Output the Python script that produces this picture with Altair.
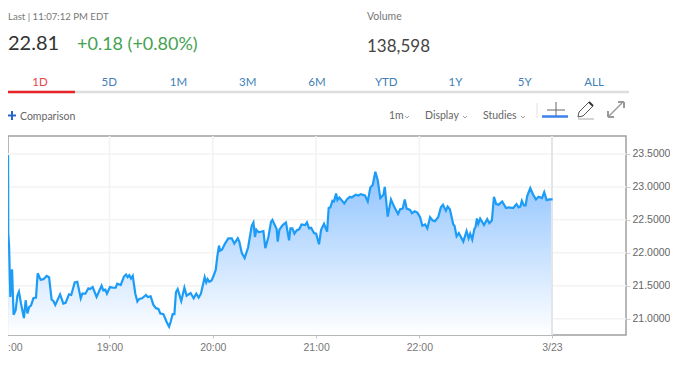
import altair as alt
import pandas as pd

minutes = [1.1,1.2,1.7,2.4,3.4,4.3,5.5,6.5,7.4,8.6,10.3,11.3,12.3,13.4,14.4,15.8,17.3,18.3,20.0,21.6,23.5,24.9,26.4,27.4,28.5,31.3,33.2,34.5,36.5,37.8,39.8,41.3,43.3,44.2,46.0,47.7,48.7,50.2,52.5,55.4,56.4,57.6,58.5,60.3,62.2,63.6,64.5,66.5,68.4,69.6,70.5,71.5,72.5,73.5,75.0,76.2,77.3,78.9,81.2,82.2,83.9,85.5,87.0,88.4,89.5,91.3,93.2,94.6,95.5,96.7,97.7,98.6,99.6,101.7,103.5,104.8,107.1,108.9,110.4,111.8,113.1,115.3,116.2,117.0,118.0,119.3,120.3,121.7,122.6,123.6,
124.2,125.4,127.1,129.0,131.0,132.5,134.5,135.4,136.8,138.5,140.5,142.6,143.6,144.5,145.3,146.7,149.4,150.5,152.3,153.8,154.6,157.1,157.7,158.7,160.6,162.5,164.3,165.1,166.2,167.4,168.7,170.3,171.5,173.6,174.7,175.9,177.1,178.8,180.0,181.7,182.9,184.6,186.4,187.3,188.3,189.5,190.4,191.6,192.4,193.5,196.4,198.2,199.7,200.7,203.0,204.6,205.9,208.4,210.0,211.5,212.9,214.4,215.8,217.3,219.1,219.9,221.6,223.5,225.5,227.6,228.8,230.3,231.5,232.6,234.6,235.7,237.3,238.8,240.4,241.7,243.3,244.6,246.2,
247.7,249.0,250.9,252.5,253.7,255.4,256.4,257.7,259.7,260.4,261.6,262.9,265.5,267.4,268.6,269.5,270.7,271.9,272.6,273.4,274.2,275.3,277.5,279.4,280.6,282.1,283.3,284.6,286.0,288.1,290.3,292.0,294.5,296.4,297.6,298.6,299.5,300.7,301.7,302.6,304.4,306.1,307.7,309.2,311.2,312.5,313.9,315.4,317.4]
prices = [23.48,22.30,22.09,21.33,21.75,21.06,21.13,21.35,21.41,21.23,21.01,21.28,21.08,21.18,21.20,21.31,21.32,21.69,21.59,21.60,21.65,21.63,21.29,21.27,21.21,21.37,21.23,21.24,21.37,21.36,21.55,21.56,21.31,21.38,21.38,21.46,21.45,21.48,21.33,21.50,21.43,21.44,21.38,21.48,21.47,21.47,21.53,21.51,21.64,21.67,21.63,21.66,21.61,21.65,21.38,21.26,21.30,21.31,21.36,21.33,21.34,21.21,21.16,21.15,21.08,21.07,20.95,20.88,20.95,21.07,21.07,21.40,21.45,21.27,21.47,21.35,21.39,21.31,21.38,21.32,21.38,21.63,21.55,21.60,21.56,21.58,21.64,21.74,21.94,22.11,
22.03,22.05,22.14,22.22,22.22,22.14,22.22,22.17,22.00,21.92,22.08,22.41,22.46,22.24,22.35,22.31,22.33,22.07,22.24,22.47,22.50,22.36,22.17,22.35,22.42,22.46,22.19,22.37,22.37,22.29,22.34,22.36,22.43,22.42,22.46,22.37,22.38,22.30,22.29,22.13,22.35,22.44,22.32,22.68,22.69,22.79,22.78,22.90,22.80,22.84,22.75,22.82,22.85,22.84,22.88,22.87,22.89,22.87,22.78,22.99,23.03,23.23,23.10,22.83,22.88,23.00,22.55,22.81,22.69,22.59,22.66,22.67,22.81,22.67,22.65,22.60,22.63,22.61,22.54,22.41,22.43,22.37,22.54,
22.49,22.48,22.54,22.69,22.73,22.64,22.70,22.66,22.43,22.41,22.25,22.30,22.17,22.33,22.22,22.29,22.20,22.36,22.39,22.52,22.44,22.52,22.42,22.51,22.45,22.49,22.85,22.74,22.73,22.78,22.68,22.69,22.68,22.74,22.69,22.70,22.79,22.72,22.72,22.86,22.98,22.88,22.81,22.85,22.83,22.92,22.80,22.81,22.81]

y_ticks = [23.5, 23.0, 22.5, 22.0, 21.5, 21.0]
x_ticks = [60, 120, 180, 240, 317]
x_labels = ["19:00", "20:00", "21:00", "22:00", "3/23"]
tabs = ["1D", "5D", "1M", "3M", "6M", "YTD", "1Y", "5Y", "ALL"]

PW, PH = 618, 199
OX, OY = 8, 136
UI = "Lato"

df = pd.DataFrame({"minute": minutes, "price": prices})
label_map = "{" + ",".join(f"'{t}':'{l}'" for t, l in zip(x_ticks, x_labels)) + "}"

x_scale = alt.Scale(domain=[1.05, 360], nice=False, zero=False)
y_scale = alt.Scale(domain=[20.753, 23.772], nice=False, zero=False)

def px(x):
    return x - OX

def py(y):
    return y - OY

def txt(s, x, y, size, color, align="left", weight=400, font=UI):
    return alt.Chart().mark_text(text=s, align=align, baseline="alphabetic", fontSize=size,
                                 color=color, font=font, fontWeight=weight).encode(
        x=alt.value(px(x)), y=alt.value(py(y)))

def seg(x1, y1, x2, y2, color, w=1.0):
    return alt.Chart().mark_rule(color=color, strokeWidth=w).encode(
        x=alt.value(px(x1)), x2=alt.value(px(x2)), y=alt.value(py(y1)), y2=alt.value(py(y2)))

x_axis = alt.Axis(values=x_ticks, labelExpr=f"{label_map}[datum.value]", title=None, grid=False,
                  domain=False, tickColor="#c4c4c4", tickSize=3, labelColor="#777777",
                  labelFont="Liberation Sans", labelFontSize=10.5, labelPadding=4,
                  labelBound=False, labelFlush=False, labelOverlap=False)
y_axis = alt.Axis(orient="right", values=y_ticks, format=".4f", title=None, grid=False,
                  domain=False, tickColor="#d0d0d0", tickSize=4, labelColor="#666666",
                  labelFont="Liberation Sans", labelFontSize=10.5, labelPadding=2,
                  labelOverlap=False)

grid_x = alt.Chart(pd.DataFrame({"minute": x_ticks[:-1]})).mark_rule(color="#f1f2f3", strokeWidth=1.5).encode(
    x=alt.X("minute:Q", scale=x_scale, axis=x_axis))
grid_last = alt.Chart(pd.DataFrame({"minute": x_ticks[-1:]})).mark_rule(color="#e2e5ea", strokeWidth=2).encode(
    x=alt.X("minute:Q", scale=x_scale, axis=x_axis))
grid_y = alt.Chart(pd.DataFrame({"price": y_ticks})).mark_rule(color="#f3f3f3", strokeWidth=1.5).encode(
    y=alt.Y("price:Q", scale=y_scale, axis=y_axis))

area = alt.Chart(df).mark_area(
    clip=True,
    line=False,
    fill=alt.Gradient(gradient="linear", x1=0, x2=0, y1=1, y2=0,
                      stops=[alt.GradientStop(color="#ffffff", offset=0),
                             alt.GradientStop(color="#84bdff", offset=1)])
).encode(
    x=alt.X("minute:Q", scale=x_scale, axis=x_axis),
    y=alt.Y("price:Q", scale=y_scale, axis=y_axis),
    y2=alt.datum(20.753),
)
line = alt.Chart(df).mark_line(clip=True, color="#1c9cf6", strokeWidth=2.2).encode(
    x=alt.X("minute:Q", scale=x_scale, axis=x_axis), y=alt.Y("price:Q", scale=y_scale, axis=y_axis))

header = [
    txt("Last | 11:07:12 PM EDT", 8, 20, 9.6, "#777777"),
    txt("22.81", 8, 50, 20, "#333333"),
    txt("+0.18 (+0.80%)", 77, 50, 18, "#43a24f"),
    txt("Volume", 367, 20, 10.5, "#777777"),
    txt("138,598", 367, 52, 17, "#444444"),
    seg(8, 92, 629, 92, "#dddddd", 2.5),
    seg(8, 92, 75, 92, "#e8262a", 2.5),
    txt("Comparison", 20, 120, 10.5, "#666666"),
    seg(8, 115.5, 16, 115.5, "#2a66c9", 2),
    seg(12, 111, 12, 120, "#2a66c9", 2),
    txt("1m", 389, 119, 10.5, "#666666"),
    txt("Display", 425, 119, 10.5, "#666666"),
    txt("Studies", 483, 119, 10.5, "#666666"),
    txt(":00", 8, 350.5, 10.5, "#777777", font="Liberation Sans"),
    seg(537, 103, 537, 118, "#e0e0e0", 1),
    seg(542, 116.5, 568, 116.5, "#3b82ee", 2.5),
    seg(547, 110, 565, 110, "#666666", 1),
    seg(556, 102, 556, 116, "#666666", 1),
    seg(579, 112, 589, 102, "#555555", 1),
    seg(583, 116, 593, 106, "#555555", 1),
    seg(589, 102, 593, 106, "#333333", 2),
    seg(579, 112, 578, 117, "#555555", 1),
    seg(578, 117, 583, 116, "#555555", 1),
    seg(578, 119, 594, 119, "#aaaaaa", 1),
    seg(609, 116, 622, 103, "#999999", 1.5),
    seg(618, 102, 624, 102, "#999999", 2),
    seg(624, 102, 624, 108, "#999999", 2),
    seg(608, 111, 608, 117, "#999999", 2),
    seg(608, 117, 614, 117, "#999999", 2),
]
for cx in (405, 463, 521):
    header += [seg(cx, 116, cx + 2, 118, "#888888", 0.8), seg(cx + 2, 118, cx + 4, 116, "#888888", 0.8)]
for i, t in enumerate(tabs):
    header.append(txt(t, 40 + i * 69.25, 86, 11.5, "#e8474a" if i == 0 else "#3f7fb8", align="center"))

chart = alt.layer(grid_x, grid_y, area, grid_last, line, *header).properties(
    width=PW, height=PH,
    padding={"left": 0, "top": OY - OX, "right": 44, "bottom": 24},
    autosize=alt.AutoSizeParams(type="none"),
    background="white",
).configure_view(stroke="#a0a0a0", strokeWidth=1.5)

chart.save("out.html", embed_options={"renderer": "svg", "actions": False})
